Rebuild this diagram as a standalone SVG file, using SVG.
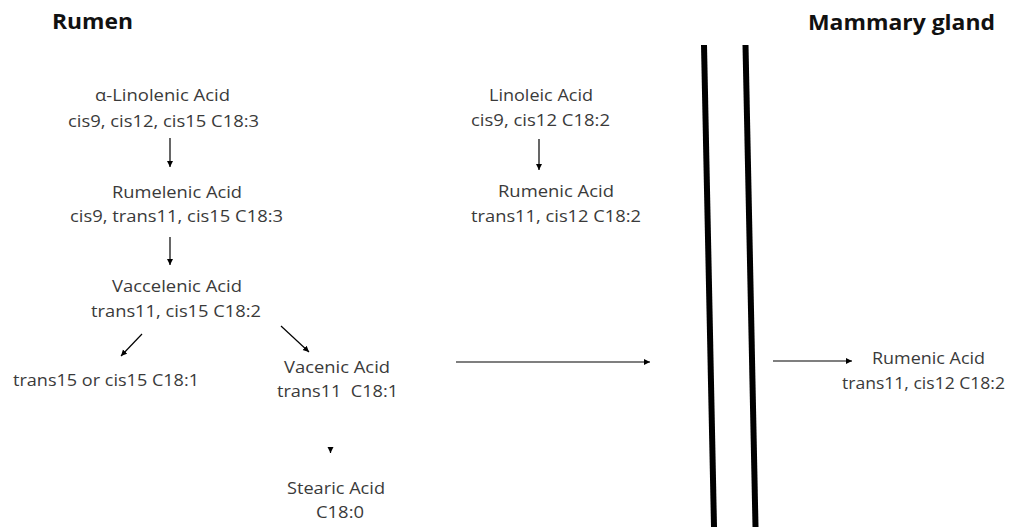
<svg xmlns="http://www.w3.org/2000/svg" width="1017" height="527" viewBox="0 0 1017 527">
<style>
.t{font-family:"Open Sans","Liberation Sans",sans-serif;font-size:16px;fill:#3a3a3a}
.h{font-family:"Open Sans","Liberation Sans",sans-serif;font-size:22px;font-weight:bold;fill:#111}
.c{stroke:#000;stroke-width:1.2;fill:none;marker-end:url(#ah)}
.wall{stroke:#000;stroke-width:6;fill:none}
</style>
<defs>
<marker id="ah" markerUnits="userSpaceOnUse" markerWidth="8" markerHeight="8" refX="6" refY="3" orient="auto">
<path d="M0,0 L6,3 L0,6 z" fill="#000"/>
</marker>
</defs>
<rect width="1017" height="527" fill="#fff"/>
<g id="titles">
<text class="h" x="52" y="29" textLength="81" lengthAdjust="spacingAndGlyphs">Rumen</text>
<text class="h" x="808" y="30" textLength="187" lengthAdjust="spacingAndGlyphs">Mammary gland</text>
</g>
<g id="walls">
<line class="wall" x1="704" y1="45" x2="714" y2="527"/>
<line class="wall" x1="745.5" y1="45" x2="755.5" y2="527"/>
</g>
<g id="connectors">
<line class="c" x1="170" y1="138" x2="170" y2="167"/>
<line class="c" x1="170" y1="237" x2="170" y2="265"/>
<line class="c" x1="142" y1="334" x2="121" y2="356"/>
<line class="c" x1="281" y1="326" x2="309" y2="352"/>
<line class="c" x1="330.5" y1="449" x2="330.5" y2="453"/>
<line class="c" x1="539" y1="139" x2="539" y2="170"/>
<line class="c" x1="456" y1="362" x2="650" y2="362"/>
<line class="c" x1="773" y1="361" x2="852" y2="361"/>
</g>
<g id="alpha-linolenic">
<text class="t" x="95" y="101" textLength="135" lengthAdjust="spacingAndGlyphs">α-Linolenic Acid</text>
<text class="t" x="68" y="127" textLength="191" lengthAdjust="spacingAndGlyphs">cis9, cis12, cis15 C18:3</text>
</g>
<g id="rumelenic">
<text class="t" x="112" y="198" textLength="130" lengthAdjust="spacingAndGlyphs">Rumelenic Acid</text>
<text class="t" x="70" y="222" textLength="213" lengthAdjust="spacingAndGlyphs">cis9, trans11, cis15 C18:3</text>
</g>
<g id="vaccelenic">
<text class="t" x="112" y="292" textLength="130" lengthAdjust="spacingAndGlyphs">Vaccelenic Acid</text>
<text class="t" x="91" y="317" textLength="170" lengthAdjust="spacingAndGlyphs">trans11, cis15 C18:2</text>
</g>
<g id="trans15">
<text class="t" x="13" y="386" textLength="186" lengthAdjust="spacingAndGlyphs">trans15 or cis15 C18:1</text>
</g>
<g id="vacenic">
<text class="t" x="284" y="373" textLength="106" lengthAdjust="spacingAndGlyphs">Vacenic Acid</text>
<text class="t" x="277" y="397" textLength="121" lengthAdjust="spacingAndGlyphs" xml:space="preserve">trans11  C18:1</text>
</g>
<g id="stearic">
<text class="t" x="287" y="494" textLength="98" lengthAdjust="spacingAndGlyphs">Stearic Acid</text>
<text class="t" x="316" y="518" textLength="48" lengthAdjust="spacingAndGlyphs">C18:0</text>
</g>
<g id="linoleic">
<text class="t" x="489" y="101" textLength="104" lengthAdjust="spacingAndGlyphs">Linoleic Acid</text>
<text class="t" x="471" y="126" textLength="139" lengthAdjust="spacingAndGlyphs">cis9, cis12 C18:2</text>
</g>
<g id="rumenic-rumen">
<text class="t" x="498" y="197" textLength="116" lengthAdjust="spacingAndGlyphs">Rumenic Acid</text>
<text class="t" x="471" y="222" textLength="170" lengthAdjust="spacingAndGlyphs">trans11, cis12 C18:2</text>
</g>
<g id="rumenic-mammary">
<text class="t" x="872" y="364" textLength="113" lengthAdjust="spacingAndGlyphs">Rumenic Acid</text>
<text class="t" x="842" y="389" textLength="163" lengthAdjust="spacingAndGlyphs">trans11, cis12 C18:2</text>
</g>
</svg>
